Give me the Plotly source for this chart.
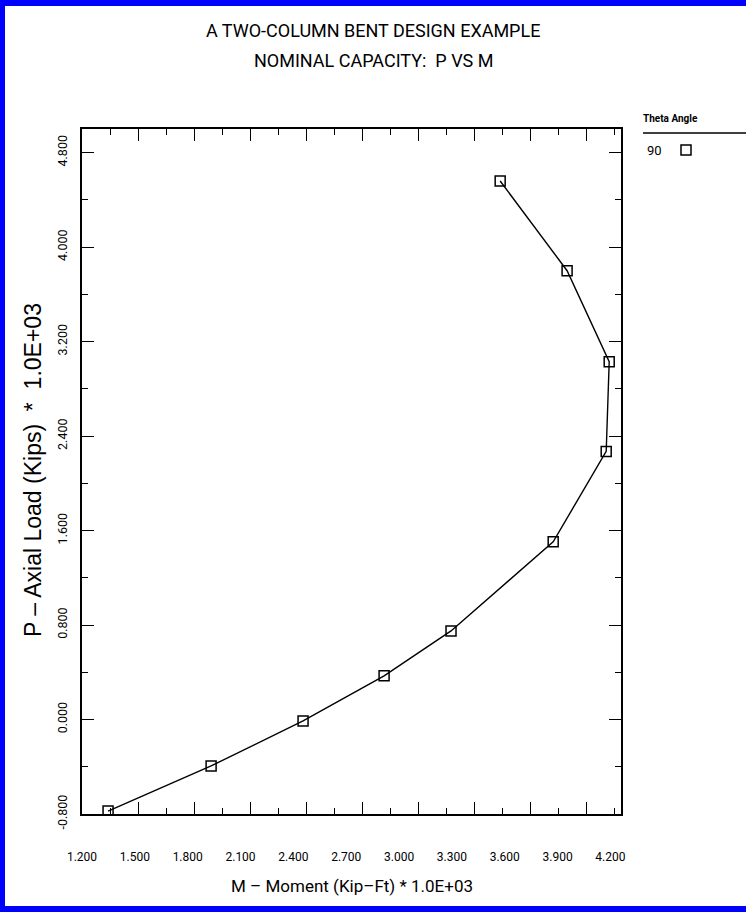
import plotly.graph_objects as go

# ---- data ----
moment = [1.348, 1.933, 2.455, 2.915, 3.295, 3.875, 4.176, 4.193, 3.954, 3.574]
axial = [-0.775, -0.393, -0.012, 0.370, 0.750, 1.505, 2.270, 3.030, 3.800, 4.560]

x_tickvals = [1.2, 1.5, 1.8, 2.1, 2.4, 2.7, 3.0, 3.3, 3.6, 3.9, 4.2]
x_ticktext = ["1.200", "1.500", "1.800", "2.100", "2.400", "2.700",
              "3.000", "3.300", "3.600", "3.900", "4.200"]
y_tickvals = [-0.8, 0.0, 0.8, 1.6, 2.4, 3.2, 4.0, 4.8]
y_ticktext = ["-0.800", "0.000", "0.800", "1.600", "2.400", "3.200", "4.000", "4.800"]

title_lines = ["A TWO-COLUMN BENT DESIGN EXAMPLE", "NOMINAL CAPACITY:  P VS M"]
x_title = "M – Moment (Kip–Ft) * 1.0E+03"
y_title = "P – Axial Load (Kips)  *  1.0E+03"
legend_title = "Theta Angle"
legend_entries = ["90"]

# ---- layout geometry ----
W, H = 746, 912
L, R, T, B = 82, 621, 129, 814
PW, PH = R - L, B - T

def px(xp):
    return (xp - L) / PW

def py(yp):
    return (B - yp) / PH

FONT = "Roboto, Liberation Sans, Arial, sans-serif"
SANS = "Liberation Sans, Arial, DejaVu Sans, sans-serif"

x_range = [1.2, 4.26]
y_range = [-0.8, 5.0]
x_minor_step = 0.159  # tick-mark spacing of the drawn frame

fig = go.Figure()
fig.add_trace(go.Scatter(
    x=moment, y=axial, mode="lines+markers",
    line=dict(color="black", width=1.4),
    marker=dict(symbol="square-open", size=10, color="black", line=dict(width=1.5)),
    showlegend=False, hoverinfo="skip"))
# invisible trace for the tick-mark overlay axis
fig.add_trace(go.Scatter(x=[x_range[0]], y=[y_range[0]], xaxis="x2", yaxis="y",
                         mode="markers", marker=dict(opacity=0), showlegend=False,
                         hoverinfo="skip"))

fig.update_layout(
    width=W, height=H,
    margin=dict(l=L, r=W - R, t=T, b=H - B),
    paper_bgcolor="white", plot_bgcolor="white",
    showlegend=False,
    xaxis=dict(range=x_range, showgrid=False, zeroline=False,
               showline=True, linecolor="black", linewidth=1.6, mirror=True,
               ticks="", tickvals=x_tickvals, ticktext=x_ticktext,
               tickfont=dict(family=FONT, size=12, color="black"),
               ticklabelstandoff=31),
    xaxis2=dict(range=x_range, overlaying="x", anchor="y", side="bottom",
                showgrid=False, zeroline=False, showline=False,
                showticklabels=False, ticks="inside", ticklen=12, tickwidth=1.3,
                tickcolor="black", tick0=x_range[0], dtick=2 * x_minor_step,
                mirror="ticks",
                minor=dict(ticks="inside", ticklen=6, tickwidth=1.3,
                           tickcolor="black", dtick=x_minor_step, tick0=x_range[0])),
    yaxis=dict(range=y_range, showgrid=False, zeroline=False,
               showline=True, linecolor="black", linewidth=1.6, mirror="ticks",
               ticks="inside", ticklen=12, tickwidth=1.3, tickcolor="black",
               tickvals=y_tickvals, ticktext=y_ticktext, tickangle=-90,
               tickfont=dict(family=FONT, size=12.5, color="black"),
               ticklabelstandoff=8,
               minor=dict(ticks="inside", ticklen=6, tickwidth=1.3,
                          tickcolor="black", dtick=0.4, tick0=-0.8)),
)

def note(text, x, y, size, family=FONT, angle=0, xanchor="center"):
    return dict(text=text, x=px(x), y=py(y), xref="paper", yref="paper",
                xanchor=xanchor, yanchor="middle", textangle=angle,
                showarrow=False, font=dict(family=family, size=size, color="black"))

ann = [
    note(title_lines[0], 373, 30, 18),
    note(title_lines[1], 373, 60, 18),
    note(x_title, 352, 886, 17),
    note(y_title, 33, 470, 23, family=SANS, angle=-90),
    note("<b>" + legend_title + "</b>", 641, 118, 10, xanchor="left"),
    note(legend_entries[0], 654, 150, 13),
]
fig.update_layout(annotations=ann)

shapes = []
# legend rule and symbol
shapes.append(dict(type="line", xref="paper", yref="paper",
                   x0=px(643), x1=px(746), y0=py(133), y1=py(133),
                   line=dict(color="black", width=1.5)))
shapes.append(dict(type="rect", xref="paper", yref="paper",
                   x0=px(681), x1=px(691), y0=py(155), y1=py(145),
                   line=dict(color="black", width=1.5)))
# blue frame
blue = "#0000ff"
for (x0, x1, y0, y1) in [(0, 5, 0, 912), (0, 746, 0, 6), (0, 746, 906, 912)]:
    shapes.append(dict(type="rect", xref="paper", yref="paper", layer="above",
                       x0=px(x0), x1=px(x1), y0=py(y1), y1=py(y0),
                       fillcolor=blue, line=dict(width=0)))
fig.update_layout(shapes=shapes)

fig.write_html("out.html",
               config={"displayModeBar": False},
               post_script="document.body.style.margin='0';"
                           "document.body.style.overflow='hidden';")
